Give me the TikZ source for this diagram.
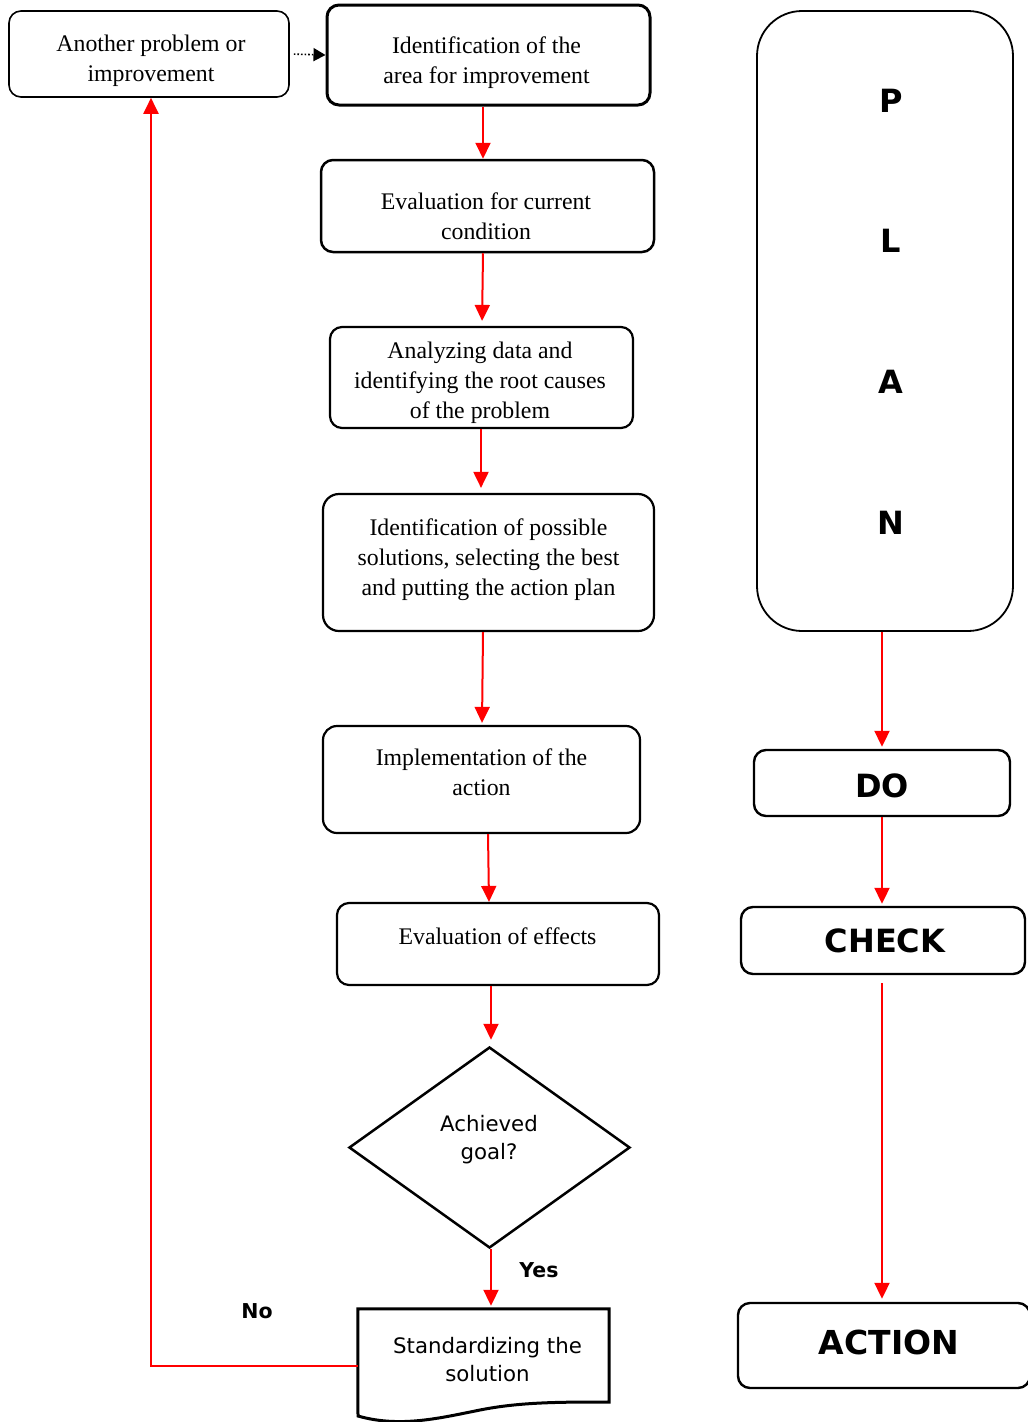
\documentclass[tikz,border=0pt]{standalone}
\usepackage{fontspec}
\setmainfont{Liberation Serif}
\newfontfamily\vsans{DejaVu Sans}
\usetikzlibrary{arrows.meta,shapes.geometric}
\begin{document}
\begin{tikzpicture}[x=1pt,y=-1pt,
  box/.style={draw=black, line width=2.2pt, rounded corners=12pt, inner sep=0pt},
  txt/.style={align=center, inner sep=0pt, font=\fontsize{23.8}{30}\selectfont},
  pdca/.style={draw=black, line width=2.4pt, rounded corners=12pt, inner sep=0pt},
  letter/.style={inner sep=0pt, font=\vsans\bfseries\fontsize{32}{38}\selectfont},
  sans/.style={align=center, inner sep=0pt, font=\vsans\fontsize{21.3}{28}\selectfont},
  answer/.style={inner sep=0pt, font=\vsans\bfseries\fontsize{20.5}{24}\selectfont},
  flow/.style={draw=red, line width=2pt, -{Triangle[length=16pt,width=15pt]}},
  hint/.style={draw=black, line width=1.6pt, dotted, -{Triangle[length=12pt,width=13pt]}}]
\useasboundingbox (0,0) rectangle (1028,1422);

% improvement loop (left column): boxes
\node[box, line width=1.6pt, minimum width=280pt, minimum height=86pt] (another) at (149,54) {};
\node[box, line width=3pt, minimum width=323pt, minimum height=100pt] (area) at (488.5,55) {};
\node[box, line width=2.5pt, minimum width=333pt, minimum height=92pt] (evalcur) at (487.5,206) {};
\node[box, minimum width=303pt, minimum height=101pt] (analyze) at (481.5,377.5) {};
\node[box, rounded corners=16pt, minimum width=331pt, minimum height=137pt] (possible) at (488.5,562.5) {};
\node[box, rounded corners=14pt, minimum width=317pt, minimum height=107pt] (implement) at (481.5,779.5) {};
\node[box, minimum width=322pt, minimum height=82pt] (effects) at (498,944) {};
\node[draw=black, line width=2.5pt, diamond, inner sep=0pt, minimum width=281pt,
  minimum height=201pt] (goal) at (489.5,1147.5) {};

% document shape
\node[inner sep=0pt, minimum width=251pt, minimum height=107pt] (std) at (483.5,1362.5) {};
\draw[black, line width=3pt, line join=miter]
  (std.north west) -- (std.north east) -- (609,1402)
  .. controls (560,1402) and (520,1402) .. (480,1410)
  .. controls (440,1418) and (400,1428) .. (358,1416) -- cycle;

% improvement loop: texts
\node[txt] (another-t) at (151,61) {Another problem or\\improvement};
\node[txt] (area-t) at (486.5,63) {Identification of the\\area for improvement};
\node[txt] (evalcur-t) at (486,216) {Evaluation for current\\condition};
\node[txt] (analyze-t) at (480,382.5) {Analyzing data and\\identifying the root causes\\of the problem};
\node[txt] (possible-t) at (488.5,559.5) {Identification of possible\\solutions, selecting the best\\and putting the action plan};
\node[txt] (implement-t) at (481.5,772.5) {Implementation of the\\action};
\node[txt] (effects-t) at (497.5,936) {Evaluation of effects};
\node[sans] (goal-t) at (489,1139.5) {Achieved\\goal?};
\node[sans] (std-t) at (487.5,1359.5) {Standardizing the\\solution};

% PDCA column
\node[draw=black, line width=1.8pt, rounded corners=45pt, minimum width=256pt,
  minimum height=620pt] (plan) at (885,321) {};
\node[letter] (p) at (891,101) {P};
\node[letter] (l) at (891,241) {L};
\node[letter] (a) at (891,382) {A};
\node[letter] (n) at (891,523) {N};
\node[pdca, minimum width=256pt, minimum height=66pt] (do) at (882,783) {};
\node[pdca, minimum width=284pt, minimum height=67pt] (check) at (883,940.5) {};
\node[pdca, minimum width=292pt, minimum height=85pt] (action) at (884,1345.5) {};
\node[letter] (do-t) at (882,786) {DO};
\node[letter] (check-t) at (885,940.5) {CHECK};
\node[letter, font=\vsans\bfseries\fontsize{33}{38}\selectfont] (action-t) at (889,1342.5) {ACTION};

% connectors
\draw[hint, shorten <=4pt] (another.east) -- (area.west);
\draw[flow] ([xshift=-5.5pt]area.south) -- ([xshift=-4.5pt]evalcur.north);
\draw[flow, shorten >=5pt] ([xshift=-4.5pt]evalcur.south) -- ([xshift=0.5pt]analyze.north);
\draw[flow, shorten >=5pt] ([xshift=-0.5pt]analyze.south) -- ([xshift=-7.5pt]possible.north);
\draw[flow, shorten >=2pt] ([xshift=-5.5pt]possible.south) -- ([xshift=0.5pt]implement.north);
\draw[flow] ([xshift=6.5pt]implement.south) -- ([xshift=-9pt]effects.north);
\draw[flow, shorten >=6pt] ([xshift=-7pt]effects.south) -- ([xshift=1.5pt]goal.north);
\draw[flow, shorten >=3pt] ([xshift=1.5pt]goal.south) -- ([xshift=7.5pt]std.north);
\draw[flow] ([yshift=-3.5pt]std.west) -| ([xshift=2pt]another.south);
\draw[flow, shorten >=2pt] ([xshift=-3pt]plan.south) -- (do.north);
\draw[flow, shorten >=2pt] (do.south) -- ([xshift=-1pt]check.north);
\draw[flow, shorten <=8pt, shorten >=3pt] ([xshift=-1pt]check.south) -- ([xshift=-2pt]action.north);

% decision labels
\node[answer] (yes) at (539,1270) {Yes};
\node[answer] (no) at (257,1311) {No};
\end{tikzpicture}
\end{document}
